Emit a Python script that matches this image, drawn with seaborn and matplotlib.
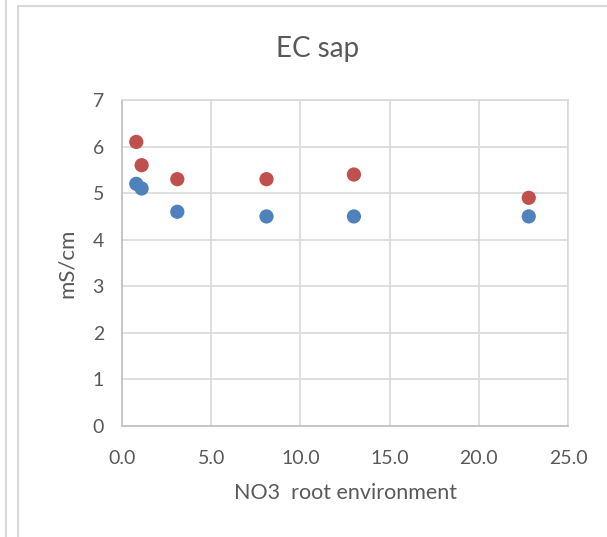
import matplotlib
matplotlib.use("Agg")
import matplotlib.pyplot as plt
import seaborn as sns
import pandas as pd
from matplotlib.lines import Line2D

# Data
no3_x = [0.8, 1.1, 3.1, 8.1, 13.0, 22.8]
series_red = [6.1, 5.6, 5.3, 5.3, 5.4, 4.9]
series_blue = [5.2, 5.1, 4.6, 4.5, 4.5, 4.5]
series_names = ["blue", "red"]
x_ticks = [0.0, 5.0, 10.0, 15.0, 20.0, 25.0]
y_ticks = [0, 1, 2, 3, 4, 5, 6, 7]

df = pd.concat([
    pd.DataFrame({"x": no3_x, "y": series_blue, "s": series_names[0]}),
    pd.DataFrame({"x": no3_x, "y": series_red, "s": series_names[1]}),
])

sns.set_theme(style="white")
plt.rcParams['font.family'] = ['Lato', 'DejaVu Sans']

W, H = 607, 537
fig = plt.figure(figsize=(W / 100, H / 100), dpi=100)
ax = fig.add_axes([122 / W, 1 - 426 / H, (568 - 122) / W, (426 - 100) / H])

sns.scatterplot(data=df, x="x", y="y", hue="s",
                palette={"blue": "#4F81BD", "red": "#C0504D"},
                s=105, linewidth=0, legend=False, ax=ax, zorder=3)

ax.set_xlim(0, 25)
ax.set_ylim(0, 7)
ax.set_xticks(x_ticks)
ax.set_xticklabels([f"{v:.1f}" for v in x_ticks])
ax.set_yticks(y_ticks)
ax.set_yticklabels([str(v) for v in y_ticks])
ax.grid(True, color="#D9D9D9", linewidth=1.2)
ax.set_axisbelow(True)
for side in ["top", "right"]:
    ax.spines[side].set_color("#D9D9D9")
    ax.spines[side].set_linewidth(1.2)
for side in ["left", "bottom"]:
    ax.spines[side].set_color("#BFBFBF")
    ax.spines[side].set_linewidth(1.2)
ax.tick_params(axis="both", length=0, labelsize=14, labelcolor="#595959")
ax.tick_params(axis="x", pad=17)
ax.tick_params(axis="y", pad=13)

ax.set_xlabel("NO3  root environment", fontsize=15.5, color="#595959", labelpad=12)
ax.set_ylabel("mS/cm", fontsize=16, color="#595959", labelpad=11)

fig.text(318 / W, 1 - 49 / H, "EC sap", ha="center", va="center",
         fontsize=20, color="#595959")

# outer chart frames
fig.add_artist(Line2D([6 / W, 6 / W], [0, 1], color="#D9D9D9", linewidth=1.5))
fig.add_artist(Line2D([18 / W, 18 / W, 1.0], [0, 1 - 6 / H, 1 - 6 / H],
                      color="#D9D9D9", linewidth=1.5))

fig.savefig("out.png", dpi=100)
